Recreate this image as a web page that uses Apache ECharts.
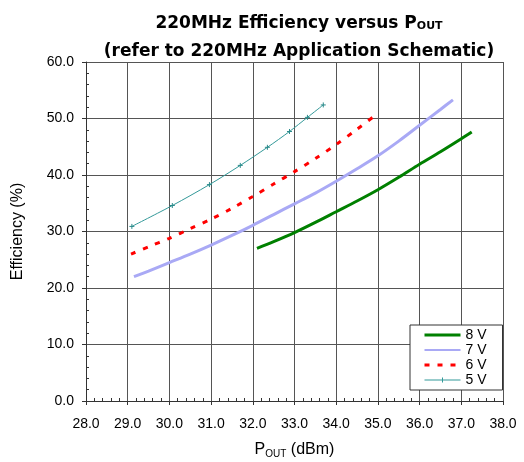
<!DOCTYPE html>
<html>
<head>
<meta charset="utf-8">
<script src="https://cdn.jsdelivr.net/npm/echarts@6/dist/echarts.min.js"></script>
<style>html,body{margin:0;padding:0;background:#fff;}#c{width:524px;height:462px;}</style>
</head>
<body>
<div id="c"></div>
<script>
// ---- data ----
const seriesNames = ['8 V', '7 V', '6 V', '5 V'];
const v8 = [[32.1,27.0],[32.5,28.2],[33.0,29.8],[33.5,31.6],[34.0,33.5],[34.5,35.4],[35.0,37.4],[35.5,39.6],[36.0,41.9],[36.5,44.1],[37.0,46.4],[37.25,47.6]];
const v7 = [[29.15,22.0],[29.5,23.0],[30.0,24.5],[30.5,26.0],[31.0,27.6],[31.5,29.3],[32.0,31.1],[32.5,33.0],[33.0,34.9],[33.5,36.8],[34.0,38.9],[34.5,41.1],[35.0,43.4],[35.5,46.0],[36.0,48.8],[36.5,51.6],[36.8,53.3]];
const v6 = [[29.08,26.0],[29.5,27.3],[30.0,28.8],[30.5,30.5],[31.0,32.2],[31.5,34.1],[32.0,36.2],[32.5,38.4],[33.0,40.6],[33.5,42.9],[34.0,45.4],[34.5,48.1],[34.98,50.8]];
const v5 = [[29.1,30.9],[30.07,34.6],[30.96,38.3],[31.7,41.7],[32.35,44.9],[32.88,47.7],[33.31,50.2],[33.69,52.4]];
const xTicks = {min: 28, max: 38, step: 1};
const yTicks = {min: 0, max: 60, step: 10};
const titleLine1 = '220MHz Efficiency versus P{s|OUT}';
const titleLine2 = '(refer to 220MHz Application Schematic)';
const xName = '{b|P}{s|OUT}{b| (dBm)}';
const yName = 'Efficiency (%)';

const chart = echarts.init(document.getElementById('c'), null, {renderer: 'canvas'});
const gridBox = {left: 86, right: 21, top: 62, bottom: 61, containLabel: false, outerBoundsMode: 'none'};
const tickFont = {fontFamily: 'Liberation Sans', fontSize: 14, color: '#000'};
const crossPath = 'path://M0,5L10,5M5,0L5,10';
const corner = 'M0,0h0.01v0.01h-0.01zM35.99,11.99h0.01v0.01h-0.01z';
const icon5 = 'path://M0,5.5h36v1h-36zM17.5,3.5h1v5h-1z' + corner;

const option = {
  backgroundColor: '#fff',
  animation: false,
  title: [
    {text: titleLine1, left: 294, top: 10, textAlign: 'center',
     textStyle: {fontFamily: 'DejaVu Sans', fontWeight: 'bold', fontSize: 17, color: '#000',
       rich: {s: {fontFamily: 'DejaVu Sans', fontWeight: 'bold', fontSize: 11, lineHeight: 11, verticalAlign: 'bottom', color: '#000'}}}},
    {text: titleLine2, left: 294, top: 38, textAlign: 'center',
     textStyle: {fontFamily: 'DejaVu Sans', fontWeight: 'bold', fontSize: 17, color: '#000'}}
  ],
  legend: {
    data: [
      {name: seriesNames[0], itemStyle: {opacity: 0}, lineStyle: {width: 3}},
      {name: seriesNames[1], itemStyle: {opacity: 0}, lineStyle: {width: 2}},
      {name: seriesNames[2], itemStyle: {opacity: 0}, lineStyle: {width: 3}},
      {name: seriesNames[3], icon: icon5, itemStyle: {color: '#339999', borderWidth: 0}}
    ],
    orient: 'vertical',
    left: 410, top: 325,
    padding: [3, 16, 3, 13],
    itemWidth: 36, itemHeight: 12, itemGap: 1,
    borderColor: '#333', borderWidth: 1, backgroundColor: '#fff',
    textStyle: {fontFamily: 'Liberation Sans', fontSize: 14, color: '#000', lineHeight: 14}
  },
  grid: [
    Object.assign({}, gridBox),
    Object.assign({}, gridBox)
  ],
  xAxis: [
    {type: 'value', gridIndex: 0, min: xTicks.min, max: xTicks.max, interval: xTicks.step,
     name: xName, nameLocation: 'middle', nameGap: 40,
     nameTextStyle: {rich: {
       b: {fontFamily: 'Liberation Sans', fontSize: 16, color: '#000', lineHeight: 18},
       s: {fontFamily: 'Liberation Sans', fontSize: 10, color: '#000', lineHeight: 10, verticalAlign: 'bottom'}}},
     axisLine: {show: true, lineStyle: {color: '#333', width: 1}},
     axisTick: {show: true, length: 4, inside: false, lineStyle: {color: '#333'}},
     axisLabel: Object.assign({margin: 16, formatter: v => v.toFixed(1)}, tickFont),
     splitLine: {show: true, lineStyle: {color: '#555', width: 1}}},
    {type: 'value', gridIndex: 1, min: xTicks.min, max: xTicks.max, interval: xTicks.step,
     axisLine: {show: false}, axisLabel: {show: false}, splitLine: {show: false},
     axisTick: {show: true, inside: true, length: 0.01, lineStyle: {color: 'rgba(0,0,0,0)'}},
     minorTick: {show: true, splitNumber: 5, length: 3, lineStyle: {color: '#333'}}}
  ],
  yAxis: [
    {type: 'value', gridIndex: 0, min: yTicks.min, max: yTicks.max, interval: yTicks.step,
     name: yName, nameLocation: 'middle', nameGap: 60, nameRotate: 90,
     nameTextStyle: {fontFamily: 'Liberation Sans', fontSize: 16, color: '#000'},
     axisLine: {show: true, lineStyle: {color: '#333', width: 1}},
     axisTick: {show: true, length: 4, inside: false, lineStyle: {color: '#333'}},
     axisLabel: Object.assign({margin: 12, formatter: v => v.toFixed(1)}, tickFont),
     splitLine: {show: true, lineStyle: {color: '#555', width: 1}}},
    {type: 'value', gridIndex: 1, min: yTicks.min, max: yTicks.max, interval: yTicks.step,
     axisLine: {show: false}, axisLabel: {show: false}, splitLine: {show: false},
     axisTick: {show: true, inside: true, length: 0.01, lineStyle: {color: 'rgba(0,0,0,0)'}},
     minorTick: {show: true, splitNumber: 5, length: 3, lineStyle: {color: '#333'}}}
  ],
  series: [
    {name: seriesNames[0], type: 'line', data: v8, showSymbol: false, symbol: 'none', smooth: 0.3,
     lineStyle: {color: '#008000', width: 3}, itemStyle: {color: '#008000'}},
    {name: seriesNames[1], type: 'line', data: v7, showSymbol: false, symbol: 'none', smooth: 0.3,
     lineStyle: {color: '#a9a9f5', width: 3}, itemStyle: {color: '#a9a9f5'}},
    {name: seriesNames[2], type: 'line', data: v6, showSymbol: false, symbol: 'none', smooth: 0.3,
     lineStyle: {color: '#ff0000', width: 3, type: [5, 8]}, itemStyle: {color: '#ff0000'}},
    {name: seriesNames[3], type: 'line', data: v5, symbol: crossPath, symbolSize: 5, showSymbol: true, smooth: 0.3,
     lineStyle: {color: '#339999', width: 1},
     itemStyle: {color: 'rgba(0,0,0,0)', borderColor: '#2a8a8a', borderWidth: 1}}
  ]
};
chart.setOption(option);
</script>
</body>
</html>
